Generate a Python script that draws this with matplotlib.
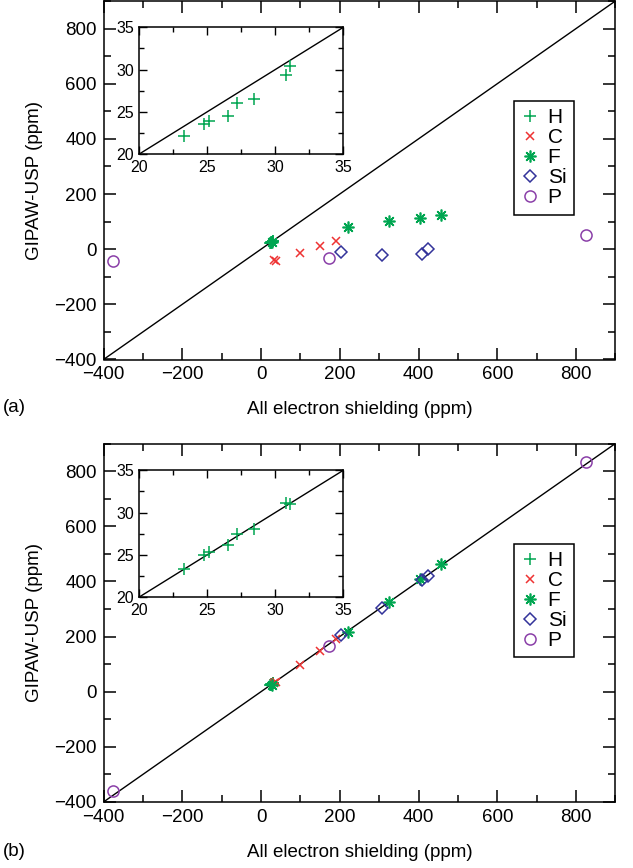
import matplotlib
matplotlib.use("Agg")
import matplotlib.pyplot as plt
from matplotlib.ticker import MultipleLocator

plt.rcParams['font.family'] = ['Liberation Sans', 'DejaVu Sans']

# ---------------- data ----------------
H_ae = [23.25, 24.75, 25.15, 26.5, 27.2, 28.4, 30.75, 31.05]
H_top = [22.1, 23.6, 23.9, 24.45, 26.0, 26.5, 29.4, 30.4]
H_bot = [23.3, 24.95, 25.35, 26.1, 27.5, 28.1, 31.1, 31.0]

C_ae = [33, 38, 99, 149, 190]
C_top = [-38, -42, -12, 12, 31]
C_bot = [30, 34, 97, 148, 191]

F_ae = [27, 221, 325, 403, 458]
F_top = [26, 81, 101, 113, 125]
F_bot = [24, 216, 327, 408, 462]

Si_ae = [202, 306, 408, 424]
Si_top = [-10, -22, -18, 0]
Si_bot = [205, 304, 404, 421]

P_ae = [-375, 172, 825]
P_top = [-42, -31, 53]
P_bot = [-360, 165, 833]

main_ticks = [-400, -200, 0, 200, 400, 600, 800]
inset_ticks = [20, 25, 30, 35]

c_H = '#00a651'
c_C = '#ee3333'
c_F = '#00a651'
c_Si = '#33339a'
c_P = '#8a3fa8'

W, Hh = 633, 868
fig = plt.figure(figsize=(W / 100, Hh / 100), dpi=100)


def fx(px):
    return px / W


def fy(py):
    return 1 - py / Hh


def style_main(ax):
    ax.set_xlim(-400, 900)
    ax.set_ylim(-400, 900)
    ax.set_xticks(main_ticks)
    ax.set_yticks(main_ticks)
    ax.xaxis.set_minor_locator(MultipleLocator(100))
    ax.yaxis.set_minor_locator(MultipleLocator(100))
    ax.tick_params(which='both', direction='in', top=True, right=True,
                   labelsize=13.5, width=1.1, pad=5)
    ax.tick_params(which='major', length=8.5)
    ax.tick_params(which='minor', length=5)
    for s in ax.spines.values():
        s.set_linewidth(1.1)
    ax.set_xlabel('All electron shielding (ppm)', fontsize=13.5, labelpad=13)
    ax.set_ylabel('GIPAW-USP (ppm)', fontsize=13.5, labelpad=8)


def style_inset(ax):
    ax.set_xlim(20, 35)
    ax.set_ylim(20, 35)
    ax.set_xticks(inset_ticks)
    ax.set_yticks(inset_ticks)
    ax.xaxis.set_minor_locator(MultipleLocator(2.5))
    ax.yaxis.set_minor_locator(MultipleLocator(2.5))
    ax.tick_params(which='both', direction='in', top=True, right=True,
                   labelsize=11.5, width=1.0, pad=4)
    ax.tick_params(which='major', length=5.5)
    ax.tick_params(which='minor', length=3.5)
    for s in ax.spines.values():
        s.set_linewidth(1.1)


def draw_panel(ax, ys):
    ax.plot([-400, 900], [-400, 900], color='black', lw=1.0, zorder=1)
    yH, yC, yF, ySi, yP = ys
    ax.plot(H_ae, yH, linestyle='none', marker='+', ms=8.5, mew=1.1,
            color=c_H, label='H')
    ax.plot(C_ae, yC, linestyle='none', marker='x', ms=5.5, mew=1.1,
            color=c_C, label='C')
    ax.plot(F_ae, yF, linestyle='none', marker=(8, 2, 0), ms=8.5, mew=1.2,
            color=c_F, label='F')
    ax.plot(Si_ae, ySi, linestyle='none', marker='D', ms=6, mew=1.1,
            mfc='none', mec=c_Si, label='Si')
    ax.plot(P_ae, yP, linestyle='none', marker='o', ms=8, mew=1.1,
            mfc='none', mec=c_P, label='P')
    leg = ax.legend(loc='upper left', bbox_to_anchor=(0.8025, 0.721),
                    borderaxespad=0, fancybox=False, frameon=True,
                    edgecolor='black', fontsize=15, handlelength=0.8,
                    handletextpad=0.45, labelspacing=0.05, borderpad=0.35,
                    framealpha=1)
    leg.get_frame().set_linewidth(1.1)


ax1 = fig.add_axes([fx(103.5), fy(359.5), fx(615.4) - fx(103.5), 358.5 / Hh])
style_main(ax1)
draw_panel(ax1, (H_top, C_top, F_top, Si_top, P_top))

ax2 = fig.add_axes([fx(103.5), fy(802), fx(615.4) - fx(103.5), 358.5 / Hh])
style_main(ax2)
draw_panel(ax2, (H_bot, C_bot, F_bot, Si_bot, P_bot))

in1 = fig.add_axes([fx(139.3), fy(154), fx(343.3) - fx(139.3), 126.7 / Hh])
style_inset(in1)
in1.plot([20, 35], [20, 35], color='black', lw=1.0)
in1.plot(H_ae, H_top, linestyle='none', marker='+', ms=9, mew=1.1, color=c_H)

in2 = fig.add_axes([fx(139.3), fy(597), fx(343.3) - fx(139.3), 126.7 / Hh])
style_inset(in2)
in2.plot([20, 35], [20, 35], color='black', lw=1.0)
in2.plot(H_ae, H_bot, linestyle='none', marker='+', ms=9, mew=1.1, color=c_H)

fig.text(fx(3), fy(408), '(a)', fontsize=13.5, va='center', ha='left')
fig.text(fx(3), fy(851), '(b)', fontsize=13.5, va='center', ha='left')

fig.savefig('out.png', dpi=100)
